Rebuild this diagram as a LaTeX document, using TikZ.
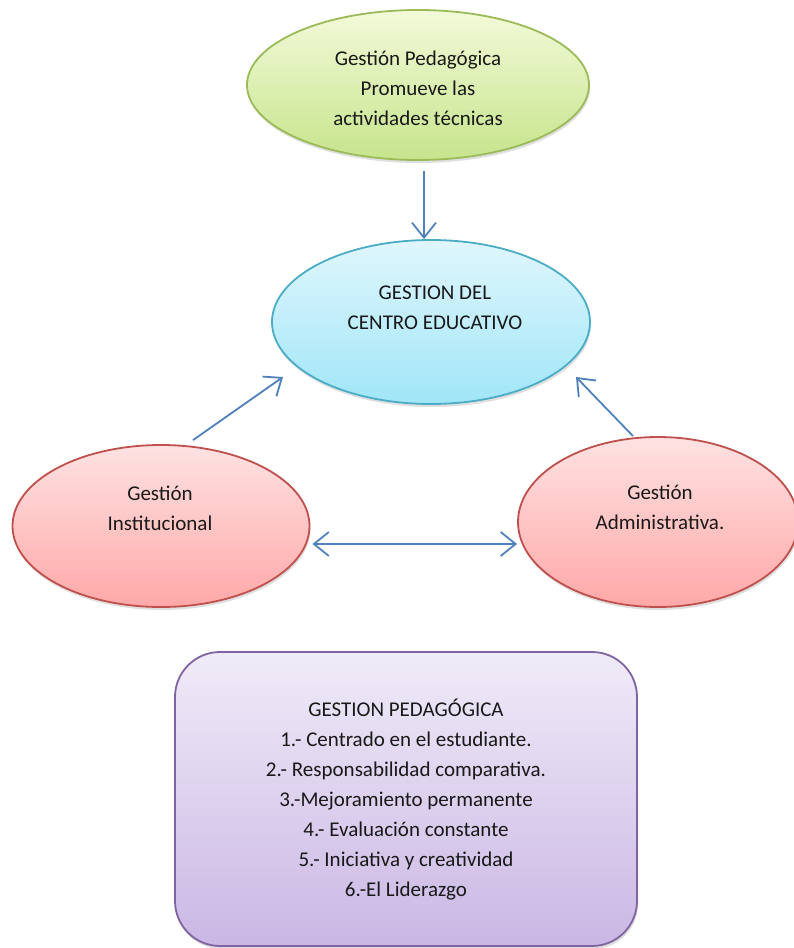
\documentclass[tikz,border=0pt]{standalone}
\usepackage{fontspec}
\setmainfont{Carlito}
\usetikzlibrary{shapes.geometric,arrows.meta,calc,shadows}
\definecolor{arrowblue}{HTML}{4F81BD}
\definecolor{grnB}{HTML}{9BBB59}
\definecolor{grnT}{HTML}{F3FAD9}
\definecolor{grnL}{HTML}{C6E48C}
\definecolor{cyB}{HTML}{4BACC6}
\definecolor{cyT}{HTML}{E0F6FC}
\definecolor{cyL}{HTML}{A0E6F8}
\definecolor{rdB}{HTML}{C0504D}
\definecolor{rdT}{HTML}{FFE2E2}
\definecolor{rdL}{HTML}{FFA8A8}
\definecolor{puB}{HTML}{8064A2}
\definecolor{puT}{HTML}{F0EBF8}
\definecolor{puL}{HTML}{CAB7E4}
\tikzset{
  x=1pt,y=-1pt,
  shp/.style={draw, line width=1.8pt, drop shadow={opacity=0.25,shadow xshift=1pt,shadow yshift=-3pt}},
  ell/.style={shp, ellipse, inner sep=0pt},
  txt/.style={font=\fontsize{21}{30}\selectfont, align=center, inner sep=0pt, text=black!90},
  arr/.style={draw=arrowblue, line width=1.8pt, -{Straight Barb[length=15pt,width=24pt,line width=1.8pt]}},
  darr/.style={draw=arrowblue, line width=1.8pt, {Straight Barb[length=15pt,width=24pt,line width=1.8pt]}-{Straight Barb[length=15pt,width=24pt,line width=1.8pt]}}
}
\begin{document}
\begin{tikzpicture}
\useasboundingbox (0,0) rectangle (794,948);
\begin{scope}
\clip (0,0) rectangle (794,948);
\fill[white] (0,0) rectangle (794,948);
\node[ell, draw=grnB, top color=grnT, bottom color=grnL, minimum width=342pt, minimum height=150pt] (top) at (418,85) {};
\node[ell, draw=cyB, top color=cyT, bottom color=cyL, minimum width=318pt, minimum height=164pt] (mid) at (431,322) {};
\node[ell, draw=rdB, top color=rdT, bottom color=rdL, minimum width=297pt, minimum height=162pt] (left) at (161,526) {};
\node[ell, draw=rdB, top color=rdT, bottom color=rdL, minimum width=280pt, minimum height=170pt] (right) at (658,522) {};
\node[shp, draw=puB, top color=puT, bottom color=puL, rounded corners=45pt, minimum width=462pt, minimum height=294pt] (box) at (406,799) {};
\end{scope}
\node[txt] (ttop) at (418,88) {Gestión Pedagógica\\Promueve las\\actividades técnicas};
\node[txt] (tmid) at (435,308) {GESTION DEL\\CENTRO EDUCATIVO};
\node[txt] (tleft) at (160,508) {Gestión\\Institucional};
\node[txt] (tright) at (660,507) {Gestión\\Administrativa.};
\node[txt] (tbox) at (406,800) {GESTION PEDAGÓGICA\\1.- Centrado en el estudiante.\\2.- Responsabilidad comparativa.\\3.-Mejoramiento permanente\\4.- Evaluación constante\\5.- Iniciativa y creatividad\\6.-El Liderazgo};
\draw[arr] ($(top.south)+(6,10)$) -- ($(mid.north)+(-7,0)$);
\draw[arr] ($(left.north)+(32,-4)$) -- ($(mid.center)+(-148,55)$);
\draw[arr] ($(right.north)+(-25,0)$) -- ($(mid.center)+(145,55)$);
\draw[darr] ($(left.east)+(2,18)$) -- ($(right.west)+(0,22)$);
\end{tikzpicture}
\end{document}
